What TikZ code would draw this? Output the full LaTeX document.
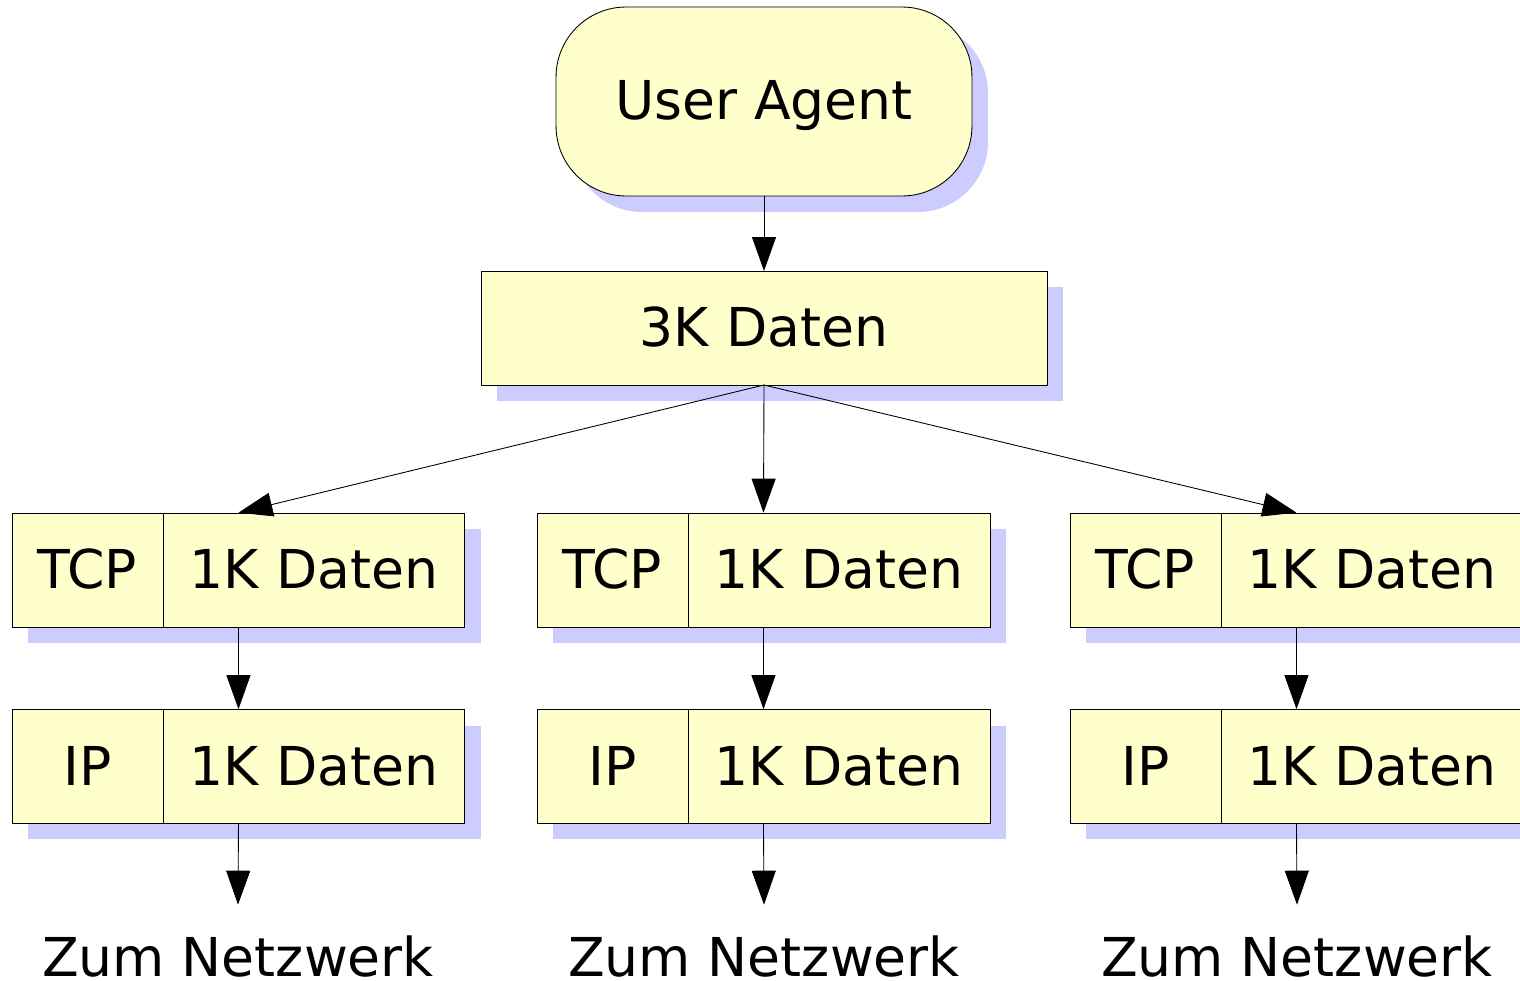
\documentclass[tikz,border=0pt]{standalone}
\usepackage{fontspec}
\setmainfont{DejaVu Sans}
\usetikzlibrary{arrows.meta, positioning, fit, shadows}

\definecolor{boxfill}{HTML}{FFFFCC}
\definecolor{shadowblue}{HTML}{CCCCFF}

\begin{document}
\begin{tikzpicture}[
    x=0.02cm, y=-0.02cm,
    % Base box style
    box/.style={
        rectangle,
        draw=black,
        line width=0.5pt,
        fill=boxfill,
        inner sep=0pt,
        outer sep=0pt,
        text height=0.74cm,
        text depth=0pt,
        font=\fontsize{30.5}{36}\selectfont,
        drop shadow={shadow xshift=0.32cm, shadow yshift=-0.32cm, fill=shadowblue, opacity=1}
    },
    % Header part of a packet
    headpart/.style={
        box,
        minimum width=3.02cm,
        minimum height=2.28cm
    },
    % Data part of a packet
    datapart/.style={
        box,
        minimum width=6.04cm,
        minimum height=2.28cm
    },
    % Whole packet (for the arrows)
    packet/.style={
        rectangle,
        inner sep=0pt
    },
    % Label at the bottom
    netlabel/.style={
        font=\fontsize{30.5}{36}\selectfont,
        inner sep=0pt,
        text height=1.42cm,
        text depth=0pt,
        anchor=base
    },
    % Arrow style
    arrow/.style={
        -{Triangle[length=0.68cm, width=0.48cm]},
        line width=0.5pt,
        black
    }
]
\useasboundingbox (0,0) rectangle (1520,980);

% === User Agent ===
\node[box, rounded corners=1.4cm, minimum width=8.32cm, minimum height=3.78cm]
    (agent) at (764, 101.5) {User Agent};

% === 3K Daten ===
\node[box, minimum width=11.32cm, minimum height=2.28cm]
    (data3k) at (764, 328) {3K Daten};

% === TCP segments ===
\node[headpart] (tcpA) at (87.5, 570) {TCP};
\node[datapart, right=0pt of tcpA] (tcpdatA) {1K Daten};
\node[packet, fit=(tcpA) (tcpdatA)] (segA) {};

\node[headpart] (tcpB) at (612.5, 570) {TCP};
\node[datapart, right=0pt of tcpB] (tcpdatB) {1K Daten};
\node[packet, fit=(tcpB) (tcpdatB)] (segB) {};

\node[headpart] (tcpC) at (1145.5, 570) {TCP};
\node[datapart, right=0pt of tcpC] (tcpdatC) {1K Daten};
\node[packet, fit=(tcpC) (tcpdatC)] (segC) {};

% === IP packets ===
\node[headpart] (ipA) at (87.5, 766.5) {IP};
\node[datapart, right=0pt of ipA] (ipdatA) {1K Daten};
\node[packet, fit=(ipA) (ipdatA)] (pktA) {};

\node[headpart] (ipB) at (612.5, 766.5) {IP};
\node[datapart, right=0pt of ipB] (ipdatB) {1K Daten};
\node[packet, fit=(ipB) (ipdatB)] (pktB) {};

\node[headpart] (ipC) at (1145.5, 766.5) {IP};
\node[datapart, right=0pt of ipC] (ipdatC) {1K Daten};
\node[packet, fit=(ipC) (ipdatC)] (pktC) {};

% === Network ===
\node[netlabel] (netA) at (238, 976) {Zum Netzwerk};
\node[netlabel] (netB) at (764, 976) {Zum Netzwerk};
\node[netlabel] (netC) at (1297, 976) {Zum Netzwerk};

% === Arrows ===
\draw[arrow] (agent.south) -- (data3k.north);

\draw[arrow] (data3k.south) -- (segA.north);
\draw[arrow] (data3k.south) -- (segB.north);
\draw[arrow] (data3k.south) -- (segC.north);

\draw[arrow] (segA.south) -- (pktA.north);
\draw[arrow] (segB.south) -- (pktB.north);
\draw[arrow] (segC.south) -- (pktC.north);

\draw[arrow] (pktA.south) -- (netA.north);
\draw[arrow] (pktB.south) -- (netB.north);
\draw[arrow] (pktC.south) -- (netC.north);

\end{tikzpicture}
\end{document}
